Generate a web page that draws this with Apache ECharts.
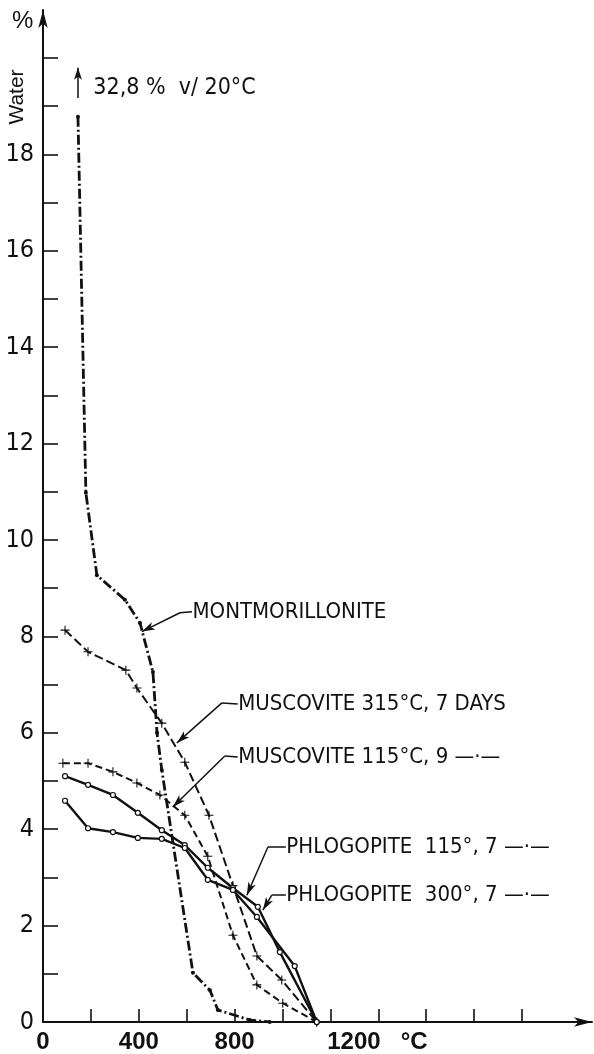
<!DOCTYPE html>
<html><head><meta charset="utf-8">
<script src="https://cdn.jsdelivr.net/npm/echarts@6/dist/echarts.min.js"></script>
<style>html,body{margin:0;padding:0;background:#fff}#c{width:594px;height:1054px}</style>
</head><body><div id="c"></div>
<script>
// ---- data (temperature °C, water %) ----
const montTemp  = [146, 179, 225, 342, 405, 459, 476, 496, 626, 697, 730, 864, 947];
const montWater = [18.78, 10.98, 9.27, 8.76, 8.28, 7.26, 6.0, 5.23, 1.02, 0.66, 0.25, 0.04, 0];

const musc315Temp  = [92, 188, 346, 392, 496, 592, 693, 793, 893, 997, 1143];
const musc315Water = [8.13, 7.68, 7.30, 6.93, 6.20, 5.39, 4.29, 2.83, 1.37, 0.87, 0];

const musc115Temp  = [83, 188, 292, 392, 488, 592, 688, 793, 893, 1001, 1143];
const musc115Water = [5.37, 5.37, 5.19, 4.96, 4.71, 4.29, 3.44, 1.80, 0.77, 0.39, 0];

const phl115Temp  = [92, 188, 292, 396, 496, 592, 688, 793, 897, 989, 1143];
const phl115Water = [5.10, 4.92, 4.71, 4.34, 3.98, 3.67, 3.20, 2.78, 2.39, 1.45, 0];

const phl300Temp  = [92, 188, 292, 396, 496, 592, 688, 793, 893, 1051, 1143];
const phl300Water = [4.59, 4.02, 3.94, 3.82, 3.80, 3.61, 2.95, 2.74, 2.18, 1.16, 0];

const xTickLabels = [0, 400, 800, 1200];
const yTickLabels = [0, 2, 4, 6, 8, 10, 12, 14, 16, 18];

const labelMont    = 'MONTMORILLONITE';
const labelMusc315 = 'MUSCOVITE 315°C, 7 DAYS';
const labelMusc115 = 'MUSCOVITE 115°C, 9 —·—';
const labelPhl115  = 'PHLOGOPITE  115°, 7 —·—';
const labelPhl300  = 'PHLOGOPITE  300°, 7 —·—';
const labelOffScale = '32,8 %  v/ 20°C';

// ---- styling / building ----
const black = '#111';
const narrow = "'Liberation Sans Narrow','DejaVu Sans Condensed',sans-serif";
const sans = "'Liberation Sans',Arial,sans-serif";
const cross = 'path://M4.4,0H5.6V4.4H10V5.6H5.6V10H4.4V5.6H0V4.4H4.4Z';

function pairs(xs, ys) { return xs.map((x, i) => [x, ys[i]]); }

function leaderLines(anchor, bend, tip) {
  return [
    [{coord: anchor, symbol: 'none'}, {coord: bend, symbol: 'none'}],
    [{coord: bend, symbol: 'none'}, {coord: tip, symbol: 'arrow', symbolSize: [6, 13]}]
  ];
}
function textPoint(coord, text, size) {
  return {
    coord: coord, symbol: 'circle', symbolSize: 1, itemStyle: {color: 'rgba(0,0,0,0)'},
    label: {show: true, position: 'right', distance: 0, formatter: text, color: black,
            fontSize: size || 22, fontFamily: narrow}
  };
}
function mark(lines, points) {
  return {
    markLine: {silent: true, animation: false, symbol: ['none', 'none'], label: {show: false},
               lineStyle: {type: 'solid', color: black, width: 1.5}, emphasis: {disabled: true}, data: lines},
    markPoint: {silent: true, animation: false, data: points}
  };
}

const base = {type: 'line', xAxisIndex: 1, yAxisIndex: 1, animation: false, silent: true, z: 3};

const series = [
  Object.assign({}, base, {
    name: 'Montmorillonite', data: pairs(montTemp, montWater),
    symbol: 'circle', symbolSize: 4, itemStyle: {color: black},
    lineStyle: {color: black, width: 2.8, type: [10, 3, 2, 3]}
  }, mark(
    leaderLines([622, 8.51], [572, 8.49], [413, 8.1]).concat([
      [{coord: [146, 19.17], symbol: 'none'}, {coord: [146, 19.8], symbol: 'arrow', symbolSize: [6, 12]}]
    ]),
    [textPoint([622, 8.51], labelMont), textPoint([208, 19.38], labelOffScale, 23)]
  )),
  Object.assign({}, base, {
    name: 'Muscovite 315', data: pairs(musc315Temp, musc315Water),
    symbol: cross, symbolSize: 9, itemStyle: {color: black},
    lineStyle: {color: black, width: 2, type: [9, 4]}
  }, mark(leaderLines([813, 6.6], [747, 6.62], [559, 5.79]), [textPoint([813, 6.6], labelMusc315)])),
  Object.assign({}, base, {
    name: 'Muscovite 115', data: pairs(musc115Temp, musc115Water),
    symbol: cross, symbolSize: 9, itemStyle: {color: black},
    lineStyle: {color: black, width: 2, type: [7, 4]}
  }, mark(leaderLines([813, 5.5], [759, 5.52], [542, 4.46]), [textPoint([813, 5.5], labelMusc115)])),
  Object.assign({}, base, {
    name: 'Phlogopite 115', data: pairs(phl115Temp, phl115Water),
    symbol: 'circle', symbolSize: 5, itemStyle: {color: '#fff', borderColor: black, borderWidth: 1.2},
    lineStyle: {color: black, width: 2.4}
  }, mark(leaderLines([1014, 3.63], [939, 3.63], [851, 2.63]), [textPoint([1014, 3.63], labelPhl115)])),
  Object.assign({}, base, {
    name: 'Phlogopite 300', data: pairs(phl300Temp, phl300Water),
    symbol: 'circle', symbolSize: 5, itemStyle: {color: '#fff', borderColor: black, borderWidth: 1.2},
    lineStyle: {color: black, width: 2.4}
  }, mark(leaderLines([1014, 2.63], [955, 2.63], [918, 2.32]), [textPoint([1014, 2.63], labelPhl300)]))
];

const arrowLine = {show: true, symbol: ['none', 'arrow'], symbolSize: [7, 18], lineStyle: {color: black, width: 2}};
const off = {show: false};

const option = {
  backgroundColor: '#fff',
  animation: false,
  grid: [
    {left: 43, right: 2, top: 10, bottom: 32},
    {left: 43, right: 72, top: 58, bottom: 32}
  ],
  xAxis: [
    {gridIndex: 0, type: 'value', min: 0, max: 1, axisLine: arrowLine, axisTick: off, axisLabel: off, splitLine: off},
    {gridIndex: 1, type: 'value', min: 0, max: 2000, interval: 200,
     axisLine: off, splitLine: off,
     axisTick: {show: true, inside: true, length: 13, lineStyle: {color: black, width: 1.6}},
     axisLabel: {
       show: true, margin: 8, color: black, fontSize: 24, fontFamily: sans, fontWeight: 'bold',
       showMinLabel: true, showMaxLabel: true,
       formatter: function (v) {
         if (xTickLabels.indexOf(v) < 0) return '';
         if (v === 1200) return '{sp| }{n|1200}{g| }{n|°C}';
         return String(v);
       },
       rich: {
         sp: {width: 94, fontSize: 24},
         n: {fontSize: 24, fontFamily: sans, color: black},
         g: {width: 20, fontSize: 24}
       }
     }}
  ],
  yAxis: [
    {gridIndex: 0, type: 'value', min: 0, max: 1, axisLine: arrowLine, axisTick: off, axisLabel: off, splitLine: off},
    {gridIndex: 1, type: 'value', min: 0, max: 20, interval: 1,
     axisLine: off, splitLine: off,
     axisTick: {show: true, inside: true, length: 15, lineStyle: {color: black, width: 1.6}},
     axisLabel: {
       show: true, margin: 9, color: black, fontSize: 25, fontFamily: narrow,
       formatter: function (v) { return yTickLabels.indexOf(v) >= 0 ? String(v) : ''; }
     }}
  ],
  graphic: [
    {type: 'text', left: 12, top: 9, silent: true,
     style: {text: '%', fontSize: 24, fontFamily: sans, fill: black}},
    {type: 'text', x: 17, y: 97, rotation: Math.PI / 2, silent: true,
     style: {text: 'Water', fontSize: 21, fontFamily: sans, fill: black,
             align: 'center', verticalAlign: 'middle', textAlign: 'center', textVerticalAlign: 'middle'}}
  ],
  series: series
};

const chart = echarts.init(document.getElementById('c'), null, {renderer: 'canvas'});
chart.setOption(option);
</script>
</body></html>
